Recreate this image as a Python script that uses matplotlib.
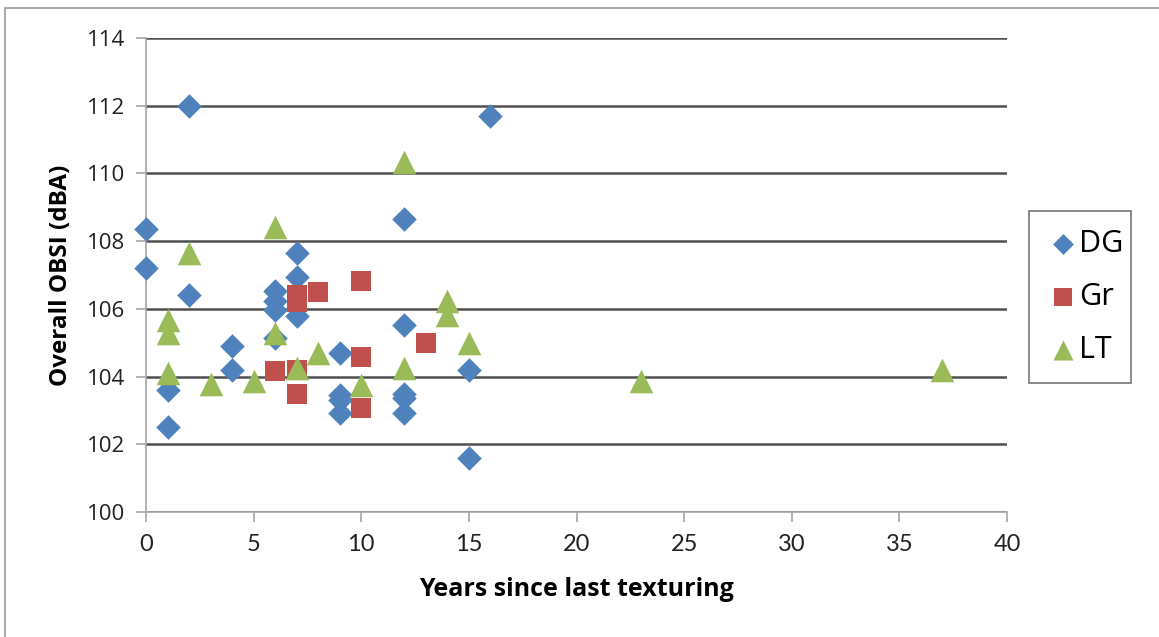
import matplotlib.pyplot as plt
from matplotlib.patches import Rectangle

# Data
dg_years = [0, 0, 1, 1, 2, 2, 4, 4, 6, 6, 6, 6, 7, 7, 7,
            9, 9, 9, 9, 12, 12, 12, 12, 12, 15, 15, 16]
dg_obsi = [108.35, 107.2, 103.6, 102.5, 112.0, 106.42, 104.9, 104.2,
           106.52, 106.23, 105.98, 105.15, 107.65, 106.95, 105.8,
           104.7, 103.45, 103.3, 102.92, 108.65, 105.53, 103.5, 103.38,
           102.92, 104.2, 101.6, 111.7]

gr_years = [6, 7, 7, 7, 7, 8, 10, 10, 10, 13]
gr_obsi = [104.17, 106.4, 106.2, 104.2, 103.5, 106.5, 106.82, 104.59,
           103.06, 104.99]

lt_years = [1, 1, 1, 2, 3, 5, 6, 6, 7, 8, 10, 12, 12, 14, 14, 15, 23, 37]
lt_obsi = [105.68, 105.29, 104.1, 107.64, 103.78, 103.87, 108.42, 105.29,
           104.25, 104.7, 103.75, 110.34, 104.25, 106.23, 105.83, 104.99,
           103.88, 104.18]

x_ticks = list(range(0, 41, 5))
y_ticks = list(range(100, 115, 2))

BLUE = "#4F81BD"
RED = "#C0504D"
GREEN = "#9BBB59"
GRID = "#505050"
AXIS = "#A6A6A6"

plt.rcParams["font.family"] = ["Open Sans", "DejaVu Sans"]

fig = plt.figure(figsize=(11.59, 6.37), dpi=100)
W, H = 1159, 637
ax = fig.add_axes([146 / W, 1 - 512 / H, (1007 - 146) / W, (512 - 38) / H])

ax.scatter(dg_years, dg_obsi, marker="D", s=12.5 ** 2, color=BLUE,
           label="DG", zorder=3, linewidths=0, clip_on=False)
ax.scatter(gr_years, gr_obsi, marker="s", s=15 ** 2, color=RED,
           label="Gr", zorder=3, linewidths=0, clip_on=False)
ax.scatter(lt_years, lt_obsi, marker="^", s=17 ** 2, color=GREEN,
           label="LT", zorder=3, linewidths=0, clip_on=False)

ax.set_xlim(0, 40)
ax.set_ylim(100, 114)
ax.set_xticks(x_ticks)
ax.set_yticks(y_ticks)
ax.yaxis.grid(True, color=GRID, linewidth=1.8)
ax.set_axisbelow(True)

for side in ("top", "right"):
    ax.spines[side].set_visible(False)
for side in ("left", "bottom"):
    ax.spines[side].set_color(AXIS)
    ax.spines[side].set_linewidth(1.2)
ax.tick_params(axis="both", direction="out", length=7, color=AXIS,
               width=1.2, labelcolor="#222222")
ax.tick_params(axis="y", labelsize=16, pad=8)
ax.tick_params(axis="x", labelsize=15, pad=9)
for lbl in ax.get_xticklabels():
    lbl.set_family(["Lato", "DejaVu Sans"])
    lbl.set_fontsize(17)

ax.set_xlabel("Years since last texturing", fontsize=18, fontweight="bold",
              labelpad=16)
ax.set_ylabel("Overall OBSI (dBA)", fontsize=17.5, fontweight="bold",
              labelpad=10)

leg = ax.legend(loc="center left", bbox_to_anchor=(1029 / W, 1 - 387 / H,
                (1131 - 1029) / W, (387 - 207) / H),
                bbox_transform=fig.transFigure, mode="expand",
                fontsize=22, frameon=True, fancybox=False,
                handletextpad=0.05, labelspacing=0.75, borderpad=0.6,
                handlelength=1.0, scatterpoints=1, borderaxespad=0,
                markerscale=0.85)
leg.get_frame().set_edgecolor("#555555")
leg.get_frame().set_linewidth(1.2)

fig.patches.append(Rectangle((5 / W, -0.1), 1.2, 1 - 8 / H + 0.1,
                             transform=fig.transFigure, fill=False,
                             edgecolor="#9A9A9A", linewidth=1.2))

fig.savefig("out.png", dpi=100)
